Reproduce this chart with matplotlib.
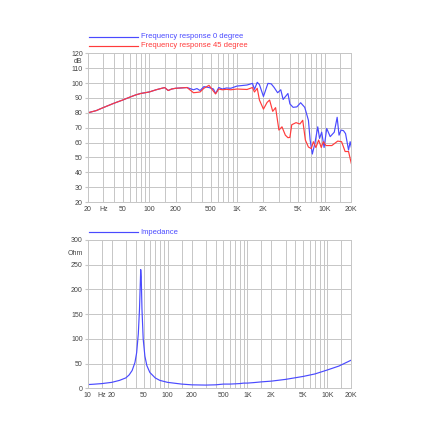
import matplotlib.pyplot as plt
from matplotlib.lines import Line2D
from matplotlib.ticker import FixedLocator, NullFormatter

plt.rcParams['font.family'] = ['Liberation Sans', 'DejaVu Sans']

# frequency response, 0 degree (Hz, dB)
f0 = [20, 25, 30, 40, 50, 60, 70, 80, 100, 120, 150, 165, 180, 200, 240, 270,
      320, 350, 380, 420, 480, 540, 570, 620, 680, 760, 850, 1000, 1300, 1500,
      1580, 1700, 1800, 2000, 2250, 2450, 2650, 2900, 3150, 3350, 3800, 4000,
      4350, 4800, 5300, 5900, 6500, 6800, 7200, 7700, 8300, 8700, 9200, 9800,
      10500, 11500, 12800, 13800, 14500, 15300, 16300, 17200, 18600, 19400, 20000]
db0 = [80, 81.5, 83.5, 86.5, 88.6, 90.5, 92, 93, 94, 95.5, 97, 95, 96, 96.5, 96.8, 97,
       95.5, 96.3, 95, 97.6, 97, 96, 93, 97, 96, 96.7, 96.5, 98, 98.7, 99.8,
       95.8, 100.5, 99, 91, 99.8, 99.5, 97, 93.5, 95.5, 89, 93, 86, 83.7, 84,
       86.8, 83.7, 75, 61.7, 52.3, 59.5, 70.6, 62.8, 67, 56.7, 69.5, 64, 67,
       77, 65, 68.4, 68, 66, 55, 60.6, 57]

# frequency response, 45 degree (Hz, dB)
f45 = [20, 25, 30, 40, 50, 60, 70, 80, 100, 120, 150, 165, 180, 200, 240, 270,
       320, 380, 420, 480, 570, 620, 680, 760, 850, 1000, 1300, 1500, 1580,
       1700, 1800, 2000, 2200, 2350, 2550, 2750, 3000, 3250, 3550, 3800, 4000,
       4200, 4700, 5200, 5600, 6000, 6500, 7000, 7400, 7900, 8500, 9100, 9600,
       10300, 12000, 14000, 15500, 17000, 18600, 20000]
db45 = [80, 81.5, 83.5, 86.5, 88.6, 90.5, 92, 93, 94, 95.5, 97, 95, 96, 96.5, 96.8, 97,
        93.5, 94, 96.5, 98.5, 92.7, 96, 95.5, 95.8, 95.5, 96, 95.7, 97, 94,
        96.5, 88.6, 82.5, 87, 88.6, 81, 83.5, 68.4, 70.6, 65, 63.3, 63.5,
        72, 73.4, 72.5, 75, 61.7, 57, 56, 60.6, 56.7, 61.7, 56.7, 60.6, 58,
        58, 61, 60.6, 54, 54, 46]

# impedance (Hz, Ohm)
fz = [10, 12, 15, 20, 25, 30, 33, 36, 39, 41, 43, 44.5, 45.5, 46.1, 46.8,
      47.8, 49.5, 52, 55, 60, 70, 80, 100, 150, 200, 300, 400, 500, 600, 700,
      800, 900, 1000, 1200, 1500, 2000, 3000, 5000, 7000, 10000, 14000, 20000]
zz = [7.5, 8.3, 9.5, 12, 16, 21, 27, 36, 52, 72, 110, 160, 210, 240, 225,
      160, 100, 65, 46, 32, 21, 16, 12, 8.5, 7, 6.5, 7, 8.5, 8.5, 9,
      9.5, 10.5, 10.5, 11.5, 13, 14.5, 18, 24, 29, 37, 45, 57]

grid_col = '#c6c6c6'
blue = '#4a4aff'
red = '#ff3b3b'


def freq_grid(lo, hi):
    vals = []
    for dec in [1, 10, 100, 1000, 10000]:
        for m in [1, 1.5, 2, 3, 4, 5, 6, 7, 8, 9]:
            v = m * dec
            if lo <= v <= hi:
                vals.append(v)
    return vals


def style(ax, lo, hi, xt, xl, yt, yl):
    ax.set_xscale('log')
    ax.set_xlim(lo, hi)
    ax.xaxis.set_major_locator(FixedLocator(xt))
    ax.set_xticklabels(xl)
    ax.xaxis.set_minor_locator(FixedLocator(freq_grid(lo, hi)))
    ax.xaxis.set_minor_formatter(NullFormatter())
    ax.set_yticks(yt)
    ax.set_yticklabels(yl)
    ax.grid(True, which='both', color=grid_col, lw=0.7)
    ax.tick_params(axis='x', which='both', length=0, labelsize=5, pad=2.5, colors='#444444')
    ax.tick_params(axis='y', length=2.5, labelsize=5, pad=1, color=grid_col, labelcolor='#444444')
    for s in ax.spines.values():
        s.set_color(grid_col)
        s.set_linewidth(0.7)


fig = plt.figure(figsize=(4.3, 4.3), dpi=100)

ax1 = fig.add_axes([0.204, 0.530, 0.613, 0.346])
ax1.plot(f0, db0, color=blue, lw=0.85)
ax1.plot(f45, db45, color=red, lw=0.85)
ax1.set_ylim(20, 120)
yt1 = [20, 30, 40, 50, 60, 70, 80, 90, 100, 110, 115, 120]
style(ax1, 20, 20000,
      [20, 30, 50, 100, 200, 500, 1000, 2000, 5000, 10000, 20000],
      ['20', 'Hz', '50', '100', '200', '500', '1K', '2K', '5K', '10K', '20K'],
      yt1, [str(v) for v in yt1[:-2]] + ['dB', '120'])
ax1.get_ygridlines()[10].set_visible(False)
ax1.yaxis.get_major_ticks()[10].tick1line.set_visible(False)

ax2 = fig.add_axes([0.204, 0.097, 0.613, 0.345])
ax2.plot(fz, zz, color=blue, lw=0.85)
ax2.set_ylim(0, 300)
yt2 = [0, 50, 100, 150, 200, 250, 275, 300]
style(ax2, 10, 20000,
      [10, 15, 20, 50, 100, 200, 500, 1000, 2000, 5000, 10000, 20000],
      ['10', 'Hz', '20', '50', '100', '200', '500', '1K', '2K', '5K', '10K', '20K'],
      yt2, ['0', '50', '100', '150', '200', '250', 'Ohm', '300'])
ax2.get_ygridlines()[6].set_visible(False)
ax2.yaxis.get_major_ticks()[6].tick1line.set_visible(False)

# legends above each chart
for y, col, txt in [(0.914, blue, 'Frequency response 0 degree'),
                    (0.894, red, 'Frequency response 45 degree'),
                    (0.460, blue, 'Impedance')]:
    fig.add_artist(Line2D([0.207, 0.321], [y, y], color=col, lw=0.85))
    fig.text(0.327, y, txt, color=col, fontsize=5.5, va='center')

plt.savefig('out.png', dpi=100)
